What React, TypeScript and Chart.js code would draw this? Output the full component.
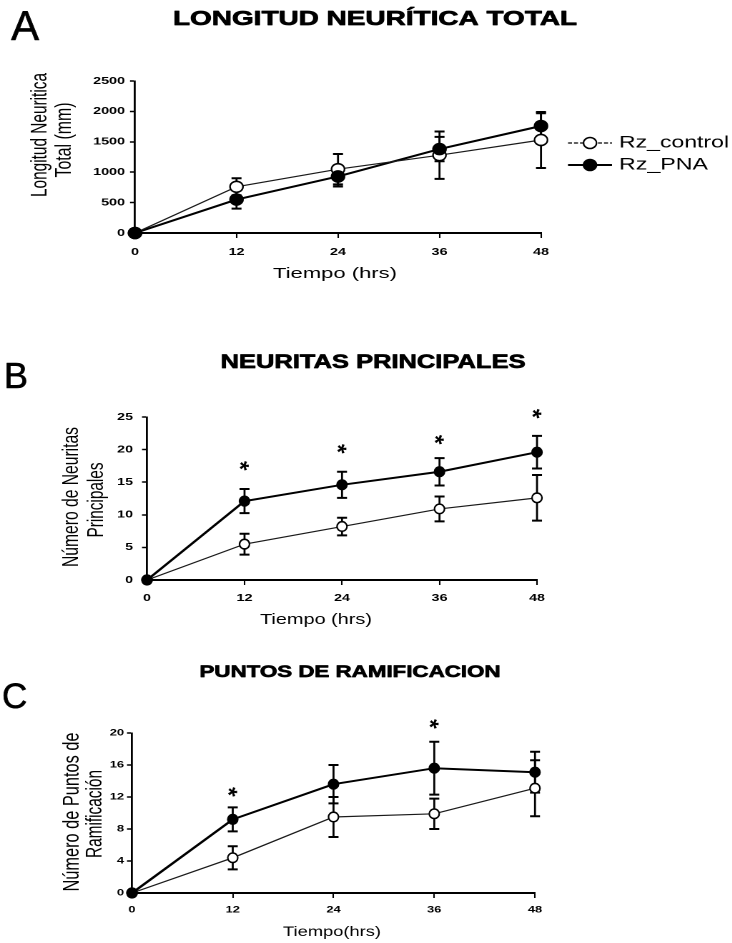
import React, { useEffect, useRef } from "react";
import { Chart, registerables } from "chart.js";

Chart.register(...registerables);

const FONT = '"Liberation Sans", Arial, Helvetica, sans-serif';
Chart.defaults.font.family = FONT;

// ---------------- data ----------------
const hours = [0, 12, 24, 36, 48];
const xTicks = [0, 12, 24, 36, 48];
const seriesLabels = ["Rz_control", "Rz_PNA"];

// A: Longitud neurítica total
const aControl = [0, 760, 1050, 1280, 1530];
const aControlErr = [0, 140, 250, 390, 460];
const aPNA = [0, 550, 930, 1380, 1760];
const aPNAErr = [0, 150, 165, 200, 210];
const aYTicks = [0, 500, 1000, 1500, 2000, 2500];

// B: Neuritas principales
const bControl = [0, 5.5, 8.2, 10.9, 12.6];
const bControlErr = [0, 1.6, 1.35, 1.9, 3.5];
const bPNA = [0, 12.1, 14.6, 16.6, 19.6];
const bPNAErr = [0, 1.85, 2.0, 2.1, 2.5];
const bYTicks = [0, 5, 10, 15, 20, 25];
const bStarHours = [12, 24, 36, 48];
const bStarY = [17.6, 20.2, 21.6, 25.6];

// C: Puntos de ramificación
const cControl = [0, 4.4, 9.5, 9.9, 13.1];
const cControlErr = [0, 1.45, 2.5, 1.9, 3.5];
const cPNA = [0, 9.2, 13.6, 15.6, 15.1];
const cPNAErr = [0, 1.5, 2.4, 3.3, 2.55];
const cYTicks = [0, 4, 8, 12, 16, 20];
const cStarHours = [12, 36];
const cStarY = [12.7, 21.2];

// ---------------- layout ----------------
const S = 1.43; // horizontal stretch of the source figure
const IW = 512; // internal canvas width (512 * 1.43 ≈ 732)

type Txt = {
  text: string;
  x: number;
  y: number;
  size: number;
  bold?: boolean;
  heavy?: number;
  align?: CanvasTextAlign;
  baseline?: CanvasTextBaseline;
  rot?: number;
  w?: number;
  natural?: boolean;
};

type Panel = {
  key: string;
  top: number;
  height: number;
  area: { left: number; right: number; top: number; bottom: number };
  yTicks: number[];
  control: number[];
  controlErr: number[];
  pna: number[];
  pnaErr: number[];
  starHours: number[];
  starY: number[];
  tickSize: number;
  xTickPad: number;
  yTickPad: number;
  rx: number;
  ry: number;
  texts: Txt[];
  legend: boolean;
};

const panels: Panel[] = [
  {
    key: "A",
    top: 0,
    height: 300,
    area: { left: 135, right: 541, top: 81, bottom: 233 },
    yTicks: aYTicks,
    control: aControl,
    controlErr: aControlErr,
    pna: aPNA,
    pnaErr: aPNAErr,
    starHours: [],
    starY: [],
    tickSize: 10,
    xTickPad: 8,
    yTickPad: 3.5,
    rx: 6.5,
    ry: 5.5,
    legend: true,
    texts: [
      { text: "A", x: 11, y: 40, size: 42, align: "left", natural: true, heavy: 0.6 },
      { text: "LONGITUD NEURÍTICA TOTAL", x: 375, y: 25, size: 20, bold: true, w: 404, heavy: 0.7 },
      { text: "Tiempo (hrs)", x: 335, y: 278, size: 15, w: 124 },
      { text: "Longitud Neuritica", x: 40, y: 135, size: 15.5, rot: -90, baseline: "middle", w: 124 },
      { text: "Total (mm)", x: 65, y: 140, size: 15.5, rot: -90, baseline: "middle", w: 75 },
    ],
  },
  {
    key: "B",
    top: 300,
    height: 340,
    area: { left: 147, right: 537, top: 117, bottom: 280 },
    yTicks: bYTicks,
    control: bControl,
    controlErr: bControlErr,
    pna: bPNA,
    pnaErr: bPNAErr,
    starHours: bStarHours,
    starY: bStarY,
    tickSize: 10,
    xTickPad: 7,
    yTickPad: 6.3,
    rx: 5,
    ry: 4.8,
    legend: false,
    texts: [
      { text: "B", x: 4, y: 88, size: 36, align: "left", natural: true, heavy: 0.6 },
      { text: "NEURITAS PRINCIPALES", x: 373, y: 68, size: 19, bold: true, w: 305, heavy: 0.7 },
      { text: "Tiempo (hrs)", x: 316, y: 324, size: 15, w: 112 },
      { text: "Número de Neuritas", x: 72, y: 197, size: 15.6, rot: -90, baseline: "middle", w: 140 },
      { text: "Principales", x: 97, y: 200, size: 15.6, rot: -90, baseline: "middle", w: 75 },
    ],
  },
  {
    key: "C",
    top: 640,
    height: 303,
    area: { left: 132, right: 535, top: 93, bottom: 253 },
    yTicks: cYTicks,
    control: cControl,
    controlErr: cControlErr,
    pna: cPNA,
    pnaErr: cPNAErr,
    starHours: cStarHours,
    starY: cStarY,
    tickSize: 9,
    xTickPad: 6.6,
    yTickPad: 2.1,
    rx: 5,
    ry: 4.8,
    legend: false,
    texts: [
      { text: "C", x: 2, y: 68, size: 35, align: "left", natural: true, heavy: 0.6 },
      { text: "PUNTOS DE RAMIFICACION", x: 350, y: 37, size: 17, bold: true, w: 301, heavy: 0.7 },
      { text: "Tiempo(hrs)", x: 332, y: 296, size: 14, w: 98 },
      { text: "Número de Puntos de", x: 72, y: 172, size: 16, rot: -90, baseline: "middle", w: 159 },
      { text: "Ramificación", x: 95, y: 174, size: 16, rot: -90, baseline: "middle", w: 88 },
    ],
  },
];

// ---------------- drawing helpers ----------------
function drawTxt(ctx: CanvasRenderingContext2D, t: Txt) {
  ctx.save();
  ctx.font = `${t.bold ? "bold " : ""}${t.size}px ${FONT}`;
  ctx.fillStyle = "#000";
  ctx.strokeStyle = "#000";
  ctx.textAlign = t.align ?? "center";
  ctx.textBaseline = t.baseline ?? "alphabetic";
  ctx.translate(t.x / S, t.y);
  if (t.rot) ctx.rotate((t.rot * Math.PI) / 180);
  const nat = ctx.measureText(t.text).width;
  let sx = 1;
  if (t.w) sx = (t.rot ? t.w : t.w / S) / nat;
  else if (t.natural && !t.rot) sx = 1 / S;
  ctx.scale(sx, 1);
  ctx.fillText(t.text, 0, 0);
  if (t.heavy) {
    ctx.lineWidth = t.heavy;
    ctx.lineJoin = "round";
    ctx.strokeText(t.text, 0, 0);
  }
  ctx.restore();
}

function marker(
  ctx: CanvasRenderingContext2D,
  x: number,
  y: number,
  rx: number,
  ry: number,
  filled: boolean
) {
  ctx.save();
  ctx.translate(x, y);
  ctx.scale(1 / S, 1);
  ctx.beginPath();
  ctx.ellipse(0, 0, rx, ry, 0, 0, Math.PI * 2);
  ctx.fillStyle = filled ? "#000" : "#fff";
  ctx.fill();
  ctx.lineWidth = 1.6;
  ctx.strokeStyle = "#000";
  ctx.stroke();
  ctx.restore();
}

function makePlugin(p: Panel) {
  return {
    id: "panelDecor",
    beforeDatasetsDraw(chart: any) {
      const ctx: CanvasRenderingContext2D = chart.ctx;
      const xs = chart.scales.x;
      const ys = chart.scales.y;
      const sets: [number[], number[]][] = [
        [p.control, p.controlErr],
        [p.pna, p.pnaErr],
      ];
      ctx.save();
      ctx.strokeStyle = "#000";
      sets.forEach(([vals, errs]) => {
        hours.forEach((h, i) => {
          const e = errs[i];
          if (!e) return;
          const x = xs.getPixelForValue(h);
          const y1 = ys.getPixelForValue(vals[i] + e);
          const y2 = ys.getPixelForValue(vals[i] - e);
          ctx.lineWidth = 2 / S;
          ctx.beginPath();
          ctx.moveTo(x, y1);
          ctx.lineTo(x, y2);
          ctx.stroke();
          const c = 5 / S;
          ctx.lineWidth = 2;
          ctx.beginPath();
          ctx.moveTo(x - c, y1);
          ctx.lineTo(x + c, y1);
          ctx.moveTo(x - c, y2);
          ctx.lineTo(x + c, y2);
          ctx.stroke();
        });
      });
      ctx.restore();
    },
    afterDatasetsDraw(chart: any) {
      const ctx: CanvasRenderingContext2D = chart.ctx;
      [0, 1].forEach((d) => {
        chart.getDatasetMeta(d).data.forEach((pt: any) => {
          marker(ctx, pt.x, pt.y, p.rx, p.ry, d === 1);
        });
      });
      // significance stars
      const xs = chart.scales.x;
      const ys = chart.scales.y;
      p.starHours.forEach((h, i) => {
        const x = xs.getPixelForValue(h);
        const y = ys.getPixelForValue(p.starY[i]);
        ctx.save();
        ctx.font = `bold 24px ${FONT}`;
        ctx.fillStyle = "#000";
        ctx.textAlign = "center";
        ctx.textBaseline = "alphabetic";
        const m = ctx.measureText("*");
        const off = (m.actualBoundingBoxAscent - m.actualBoundingBoxDescent) / 2;
        ctx.translate(x, y);
        ctx.scale(1 / S, 1);
        ctx.rotate(0.35);
        ctx.fillText("*", 0, off);
        ctx.restore();
      });
    },
    afterDraw(chart: any) {
      const ctx: CanvasRenderingContext2D = chart.ctx;
      p.texts.forEach((t) => drawTxt(ctx, t));
      if (p.legend) {
        const rows = [
          { y: 143, filled: false, lw: 1.2, dash: true },
          { y: 165, filled: true, lw: 2, dash: false },
        ];
        rows.forEach((r, i) => {
          ctx.save();
          ctx.strokeStyle = "#000";
          ctx.lineWidth = r.lw;
          if (r.dash) ctx.setLineDash([4 / S, 2 / S]);
          ctx.beginPath();
          ctx.moveTo(568 / S, r.y);
          ctx.lineTo(612 / S, r.y);
          ctx.stroke();
          ctx.restore();
          marker(ctx, 590 / S, r.y, 6.5, 5.5, r.filled);
          drawTxt(ctx, {
            text: chart.data.datasets[i].label,
            x: 619,
            y: r.y,
            size: 17,
            align: "left",
            baseline: "middle",
            w: i === 0 ? 110 : 89,
          });
        });
      }
    },
  };
}

function buildConfig(p: Panel): any {
  const a = p.area;
  const tickFont = { family: FONT, weight: "bold" as const, size: p.tickSize };
  return {
    type: "line",
    data: {
      datasets: [
        {
          label: seriesLabels[0],
          data: hours.map((h, i) => ({ x: h, y: p.control[i] })),
          borderColor: "#1a1a1a",
          borderWidth: 1.2,
          pointRadius: 0,
          pointHoverRadius: 0,
          tension: 0,
          fill: false,
          clip: false,
        },
        {
          label: seriesLabels[1],
          data: hours.map((h, i) => ({ x: h, y: p.pna[i] })),
          borderColor: "#000",
          borderWidth: 2,
          pointRadius: 0,
          pointHoverRadius: 0,
          tension: 0,
          fill: false,
          clip: false,
        },
      ],
    },
    options: {
      responsive: false,
      animation: false,
      devicePixelRatio: 2,
      events: [],
      layout: {
        padding: { left: 0, top: a.top, right: IW - a.right / S, bottom: 0 },
      },
      plugins: {
        legend: { display: false },
        tooltip: { enabled: false },
        title: { display: false },
      },
      scales: {
        x: {
          type: "linear",
          min: xTicks[0],
          max: xTicks[xTicks.length - 1],
          afterBuildTicks: (s: any) => {
            s.ticks = xTicks.map((v) => ({ value: v }));
          },
          afterFit: (s: any) => {
            s.height = p.height - a.bottom;
          },
          grid: {
            drawOnChartArea: false,
            drawTicks: true,
            tickLength: 5,
            tickWidth: 1.5 / S,
            tickColor: "#000",
          },
          border: { display: true, color: "#000", width: 2 },
          ticks: {
            font: tickFont,
            color: "#000",
            padding: p.xTickPad,
            maxRotation: 0,
            autoSkip: false,
            callback: (v: any) => String(v),
          },
        },
        y: {
          type: "linear",
          min: p.yTicks[0],
          max: p.yTicks[p.yTicks.length - 1],
          afterBuildTicks: (s: any) => {
            s.ticks = p.yTicks.map((v) => ({ value: v }));
          },
          afterFit: (s: any) => {
            s.width = a.left / S;
          },
          grid: {
            drawOnChartArea: false,
            drawTicks: true,
            tickLength: 5 / S,
            tickWidth: 1.5,
            tickColor: "#000",
          },
          border: { display: true, color: "#000", width: 2 / S },
          ticks: {
            font: tickFont,
            color: "#000",
            padding: p.yTickPad,
            autoSkip: false,
            callback: (v: any) => String(v),
          },
        },
      },
    },
    plugins: [makePlugin(p)],
  };
}

function PanelChart({ p }: { p: Panel }) {
  const ref = useRef<HTMLCanvasElement | null>(null);
  useEffect(() => {
    if (!ref.current) return;
    const chart = new Chart(ref.current, buildConfig(p));
    return () => chart.destroy();
  }, [p]);
  return (
    <div
      style={{
        position: "absolute",
        left: 0,
        top: p.top,
        width: IW,
        height: p.height,
        transform: `scaleX(${S})`,
        transformOrigin: "0 0",
      }}
    >
      <canvas ref={ref} width={IW} height={p.height} style={{ display: "block" }} />
    </div>
  );
}

export default function App() {
  return (
    <div
      style={{
        position: "absolute",
        left: 0,
        top: 0,
        width: 732,
        height: 943,
        overflow: "hidden",
        background: "#fff",
      }}
    >
      {panels.map((p) => (
        <PanelChart key={p.key} p={p} />
      ))}
    </div>
  );
}
